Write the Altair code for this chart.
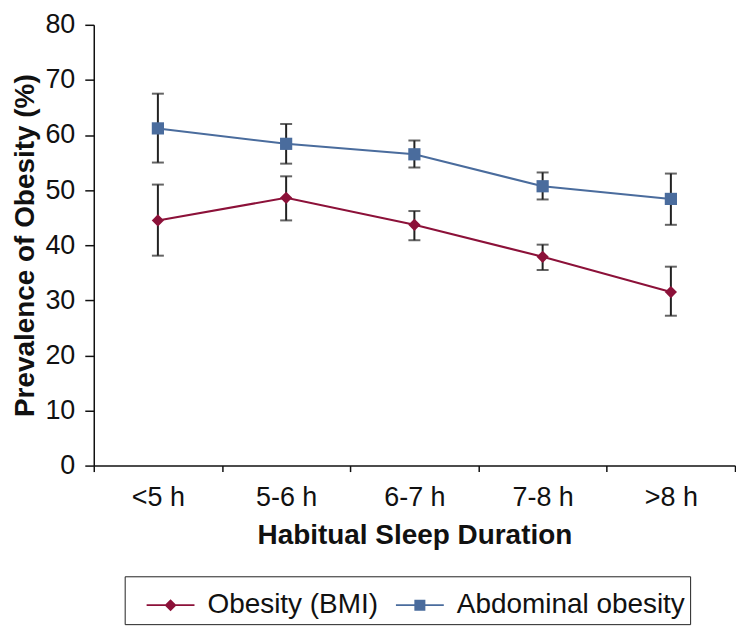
import altair as alt
import pandas as pd

categories = ["<5 h", "5-6 h", "6-7 h", "7-8 h", ">8 h"]
series_names = ["Obesity (BMI)", "Abdominal obesity"]
bmi_mean = [44.5, 48.6, 43.7, 37.9, 31.5]
bmi_low = [38.1, 44.5, 40.9, 35.5, 27.2]
bmi_high = [51.0, 52.5, 46.2, 40.1, 36.1]
abd_mean = [61.2, 58.4, 56.5, 50.7, 48.4]
abd_low = [55.0, 54.8, 54.1, 48.3, 43.7]
abd_high = [67.5, 62.0, 59.0, 53.2, 53.0]
y_ticks = [0, 10, 20, 30, 40, 50, 60, 70, 80]
colors = ["#8C1139", "#4A6C9D"]
marker_shapes = ["diamond", "square"]
legend_paths = [
    "M-1,-0.035L1,-0.035L1,0.035L-1,0.035Z M0,-0.25L0.25,0L0,0.25L-0.25,0Z",
    "M-1,-0.035L1,-0.035L1,0.035L-1,0.035Z M-0.23,-0.23L0.23,-0.23L0.23,0.23L-0.23,0.23Z",
]

rows = []
for i, c in enumerate(categories):
    rows.append({"Sleep": c, "Series": series_names[0], "Mean": bmi_mean[i], "Low": bmi_low[i], "High": bmi_high[i]})
    rows.append({"Sleep": c, "Series": series_names[1], "Mean": abd_mean[i], "Low": abd_low[i], "High": abd_high[i]})
df = pd.DataFrame(rows)

FONT = "Liberation Sans"
NBSP3 = "\u00a0\u00a0\u00a0"
LABEL_EXPR = "datum.label == 'Abdominal obesity' ? datum.label + '" + NBSP3 + "' : datum.label"

x_enc = alt.X(
    "Sleep:N",
    sort=categories,
    scale=alt.Scale(type="band", domain=categories, paddingInner=0, paddingOuter=0),
    axis=alt.Axis(
        title="Habitual Sleep Duration",
        labelAngle=0,
        tickBand="extent",
        tickSize=6,
        labelPadding=13,
        titlePadding=11,
    ),
)
y_scale = alt.Scale(domain=[0, 80], nice=False)
y_axis = alt.Axis(
    title="Prevalence of Obesity (%)",
    values=y_ticks,
    tickSize=9,
    labelPadding=10,
    titlePadding=5,
    grid=False,
)

base = alt.Chart(df)

layers = []
for name, col, shp in zip(series_names, colors, marker_shapes):
    sub = base.transform_filter(alt.datum.Series == name)
    layers.append(
        sub.mark_line(strokeWidth=2, color=col).encode(
            x=x_enc, y=alt.Y("Mean:Q", scale=y_scale, axis=y_axis)
        )
    )

rules = base.mark_rule(color="#222222", strokeWidth=2).encode(
    x=x_enc, y=alt.Y("Low:Q", scale=y_scale), y2="High:Q"
)
caps_low = base.mark_tick(color="#222222", thickness=2, size=12).encode(
    x=x_enc, y=alt.Y("Low:Q", scale=y_scale)
)
caps_high = base.mark_tick(color="#222222", thickness=2, size=12).encode(
    x=x_enc, y=alt.Y("High:Q", scale=y_scale)
)
layers += [rules, caps_low, caps_high]

for name, col, shp in zip(series_names, colors, marker_shapes):
    sub = base.transform_filter(alt.datum.Series == name)
    layers.append(
        sub.mark_point(shape=shp, filled=True, size=150, opacity=1, color=col).encode(
            x=x_enc, y=alt.Y("Mean:Q", scale=y_scale)
        )
    )

legend_layer = base.mark_point(filled=True, opacity=0, size=2304).encode(
    x=x_enc,
    y=alt.Y("Mean:Q", scale=y_scale),
    color=alt.Color(
        "Series:N",
        scale=alt.Scale(domain=series_names, range=colors),
        legend=alt.Legend(title=None, labelExpr=LABEL_EXPR),
    ),
    shape=alt.Shape(
        "Series:N",
        scale=alt.Scale(domain=series_names, range=legend_paths),
        legend=alt.Legend(title=None, labelExpr=LABEL_EXPR),
    ),
)
layers.append(legend_layer)

chart = (
    alt.layer(*layers)
    .properties(width=643, height=442, padding={"left": 3, "top": 2, "right": 0, "bottom": 0})
    .configure(font=FONT)
    .configure_view(stroke=None)
    .configure_axis(
        domainColor="#111111",
        domainWidth=1.5,
        tickColor="#111111",
        tickWidth=1.5,
        labelColor="#111111",
        titleColor="#111111",
        labelFont=FONT,
        titleFont=FONT,
        labelFontSize=27,
        titleFontSize=28,
        titleFontWeight="bold",
    )
    .configure_legend(
        orient="none",
        legendX=31,
        legendY=553,
        direction="horizontal",
        strokeColor="#222222",
        padding=5,
        symbolSize=2304,
        symbolOpacity=1,
        symbolStrokeWidth=0,
        symbolOffset=17,
        labelFont=FONT,
        labelFontSize=28,
        labelColor="#111111",
        labelLimit=600,
        labelOffset=13,
        columnPadding=0,
        symbolLimit=0,
    )
)

chart.save("out.html", embed_options={"renderer": "svg", "actions": False})
